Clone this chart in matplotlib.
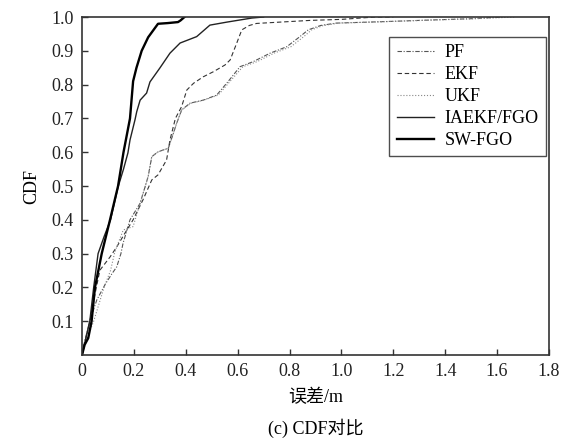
import matplotlib.pyplot as plt
import numpy as np

plt.rcParams['font.family'] = ['Liberation Serif', 'Noto Sans CJK SC']

# CDF curves (error in m, cumulative probability)
pf_x = [0, 0.01, 0.03, 0.057, 0.09, 0.115, 0.134, 0.15, 0.158, 0.185, 0.224, 0.255, 0.269, 0.293, 0.333,
        0.365, 0.384, 0.416, 0.467, 0.519, 0.563, 0.609, 0.66, 0.725, 0.789, 0.84, 0.872, 0.92, 0.98,
        1.15, 1.34, 1.5, 1.62]
pf_y = [0, 0.04, 0.1, 0.163, 0.21, 0.24, 0.261, 0.3, 0.33, 0.4, 0.449, 0.528, 0.587, 0.601, 0.612,
        0.686, 0.725, 0.745, 0.754, 0.769, 0.809, 0.853, 0.868, 0.893, 0.912, 0.942, 0.962, 0.975, 0.982,
        0.986, 0.991, 0.995, 1.0]

ekf_x = [0, 0.015, 0.031, 0.05, 0.069, 0.108, 0.134, 0.165, 0.197, 0.235, 0.269, 0.293, 0.326, 0.339,
         0.36, 0.384, 0.404, 0.43, 0.467, 0.506, 0.551, 0.571, 0.596, 0.616, 0.645, 0.673, 0.88, 1.0,
         1.13, 1.2]
ekf_y = [0, 0.05, 0.103, 0.18, 0.251, 0.29, 0.32, 0.36, 0.4, 0.459, 0.518, 0.533, 0.577, 0.636,
         0.7, 0.735, 0.784, 0.804, 0.823, 0.838, 0.858, 0.873, 0.922, 0.962, 0.975, 0.981, 0.99, 0.993,
         1.0, 1.0]

ukf_x = [0, 0.015, 0.045, 0.085, 0.11, 0.125, 0.134, 0.159, 0.197, 0.224, 0.255, 0.269, 0.293, 0.333,
         0.365, 0.384, 0.42, 0.47, 0.525, 0.57, 0.62, 0.675, 0.74, 0.805, 0.855, 0.885, 0.93, 0.99,
         1.16, 1.35, 1.52, 1.67]
ukf_y = [0, 0.04, 0.1, 0.2, 0.25, 0.3, 0.32, 0.37, 0.38, 0.449, 0.528, 0.587, 0.601, 0.612,
         0.686, 0.725, 0.745, 0.754, 0.769, 0.809, 0.853, 0.868, 0.893, 0.912, 0.942, 0.962, 0.975, 0.982,
         0.986, 0.991, 0.995, 1.0]

iaekf_x = [0, 0.015, 0.03, 0.045, 0.062, 0.085, 0.11, 0.139, 0.16, 0.177, 0.185, 0.204, 0.211, 0.224,
           0.249, 0.262, 0.30, 0.339, 0.378, 0.442, 0.493, 0.559, 0.655, 0.7]
iaekf_y = [0, 0.05, 0.1, 0.2, 0.3, 0.35, 0.4, 0.497, 0.55, 0.598, 0.636, 0.695, 0.72, 0.754,
           0.775, 0.808, 0.849, 0.893, 0.923, 0.942, 0.976, 0.985, 0.997, 1.0]

swfgo_x = [0, 0.01, 0.024, 0.037, 0.05, 0.076, 0.108, 0.139, 0.16, 0.185, 0.197, 0.21, 0.23, 0.255,
           0.293, 0.33, 0.37, 0.38, 0.395]
swfgo_y = [0, 0.03, 0.05, 0.1, 0.2, 0.3, 0.4, 0.5, 0.6, 0.7, 0.81, 0.85, 0.9, 0.94,
           0.98, 0.982, 0.985, 0.99, 1.0]

fig = plt.figure(figsize=(5.71, 4.43), dpi=100)
ax = fig.add_axes([0.1436, 0.1986, 0.8179, 0.763])

ax.plot(pf_x, pf_y, color='#555555', lw=0.8, ls='-.', dashes=(4, 1.5, 1, 1.5), label='PF')
ax.plot(ekf_x, ekf_y, color='#333333', lw=0.8, ls='--', dashes=(4, 2.5), label='EKF')
ax.plot(ukf_x, ukf_y, color='#888888', lw=0.8, ls=':', label='UKF')
ax.plot(iaekf_x, iaekf_y, color='#222222', lw=1.0, label='IAEKF/FGO')
ax.plot(swfgo_x, swfgo_y, color='black', lw=1.7, label='SW-FGO')

ax.set_xlim(0, 1.8)
ax.set_ylim(0, 1.0)
ax.set_xticks(np.arange(0, 1.81, 0.2))
ax.set_xticklabels(['0', '0.2', '0.4', '0.6', '0.8', '1.0', '1.2', '1.4', '1.6', '1.8'])
ax.set_yticks(np.arange(0.1, 1.01, 0.1))
ax.set_yticklabels(['0.1', '0.2', '0.3', '0.4', '0.5', '0.6', '0.7', '0.8', '0.9', '1.0'])
ax.tick_params(direction='in', length=4, width=1.0, labelsize=13, colors='#333333',
               labelcolor='#222222', pad=6)
for s in ax.spines.values():
    s.set_linewidth(1.2)
    s.set_color('#333333')

ax.set_ylabel('CDF', fontsize=13, labelpad=8)
ax.set_xlabel('误差/m', fontsize=13, labelpad=6)
fig.text(0.553, 0.012, '(c) CDF对比', fontsize=13, ha='center', va='bottom')

leg = ax.legend(loc='upper right', bbox_to_anchor=(0.993, 0.942), fontsize=13, frameon=True,
                fancybox=False, edgecolor='#222222', handlelength=2.1, handletextpad=0.55,
                borderpad=0.4, labelspacing=0.28, borderaxespad=0)
leg.get_frame().set_linewidth(1.0)

fig.savefig('out.png', dpi=100)
